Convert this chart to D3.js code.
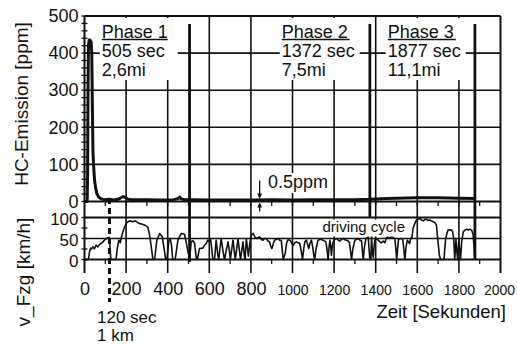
<!DOCTYPE html>
<html>
<head>
<meta charset="utf-8">
<script src="https://cdnjs.cloudflare.com/ajax/libs/d3/7.8.5/d3.min.js"></script>
<style>
  body { margin: 0; background: #fff; }
  svg { display: block; font-family: "Liberation Sans", Arial, Helvetica, sans-serif; }
  text { fill: #111; }
</style>
</head>
<body>
<div id="chart"></div>
<script>
// Data
var timeTicks = [0, 200, 400, 600, 800, 1000, 1200, 1400, 1600, 1800, 2000];
var hcTicks = [0, 100, 200, 300, 400, 500];
var speedTicks = [0, 50, 100];
var phaseNames = ['Phase 1', 'Phase 2', 'Phase 3'];
var phaseEnd = [505, 1372, 1877];
var phaseSec = ['505 sec', '1372 sec', '1877 sec'];
var phaseMiles = ['2,6mi', '7,5mi', '11,1mi'];

var hcTime = [0, 13, 15, 17, 19, 22, 27, 32, 35, 37, 39, 41, 44, 48, 53, 60, 68, 80, 95, 120,
  140, 160, 175, 185, 195, 210, 230, 260, 300, 350, 400, 430, 450, 458, 466, 480, 505, 600, 700, 800,
  900, 1000, 1100, 1200, 1300, 1372, 1400, 1450, 1500, 1600, 1700, 1800, 1877];
var hcPpm = [0, 0, 80, 300, 420, 435, 435, 430, 400, 300, 200, 130, 95, 60, 38, 20, 12, 7, 5, 6,
  4, 6, 10, 13, 11, 6, 5, 5, 5, 4, 4, 5, 8, 12, 7, 5, 5, 4, 4, 4,
  5, 4, 5, 5, 5, 6, 7, 8, 9, 10, 10, 9, 8];

var cycleTime = [0, 19, 24, 29, 34, 40, 48, 56, 64, 72, 80, 88, 96, 104, 112, 118, 122, 126, 128, 152,
  157, 165, 172, 181, 193, 204, 217, 233, 245, 262, 278, 294, 305, 313, 321, 329, 337, 348, 361, 374,
  385, 390, 396, 406, 412, 418, 424, 436, 449, 465, 481, 497, 505,
  513, 520, 529, 537, 542, 553, 569, 577, 585, 593, 601, 606, 612, 617, 625, 633, 640, 645, 657, 666,
  673, 690, 697, 701, 714, 720, 725, 738, 745, 750, 762, 768, 772, 778, 784, 788, 795, 802, 810, 818,
  826, 834, 842, 850, 858, 866, 874, 882, 890, 896, 901, 908, 914, 922, 930, 938, 946, 951, 955, 965,
  972, 978, 987, 995, 1003, 1011, 1019, 1027, 1035, 1042, 1048, 1054, 1059, 1067, 1073, 1078, 1085, 1091,
  1097, 1103, 1107, 1113, 1123, 1135, 1147, 1160, 1166, 1171, 1176, 1180, 1184, 1187, 1191, 1195, 1204,
  1212, 1220, 1228, 1236, 1244, 1252, 1260, 1268, 1274, 1279, 1284, 1290, 1300, 1308, 1316, 1324, 1332,
  1336, 1340, 1346, 1353, 1360, 1364, 1368, 1372,
  1377, 1380, 1384, 1388, 1392, 1396, 1404, 1412, 1420, 1428, 1436, 1444, 1452, 1460, 1468, 1476, 1484,
  1492, 1497, 1501, 1506, 1510, 1520, 1530, 1535, 1540, 1546, 1552, 1558, 1563, 1568, 1574, 1580, 1588,
  1596, 1604, 1612, 1620, 1628, 1636, 1644, 1652, 1660, 1668, 1676, 1684, 1692, 1697, 1702, 1706, 1712,
  1728, 1736, 1742, 1748, 1756, 1764, 1770, 1775, 1780, 1786, 1790, 1794, 1800, 1804, 1808, 1813, 1821,
  1829, 1837, 1845, 1853, 1861, 1868, 1873, 1877];
var cycleSpeed = [0, 0, 18, 27, 25, 30, 26, 34, 30, 36, 38, 42, 46, 49, 52, 53, 35, 5, 0, 0,
  25, 46, 40, 60, 78, 88, 92, 90, 92, 86, 84, 81, 76, 58, 30, 0, 0, 46, 62, 54,
  18, 0, 0, 45, 50, 35, 0, 0, 46, 62, 60, 20, 0,
  42, 45, 40, 5, 0, 26, 27, 34, 38, 46, 42, 50, 25, 0, 0, 46, 15, 0, 50, 20,
  0, 42, 20, 0, 46, 20, 0, 50, 20, 0, 42, 10, 0, 50, 25, 8, 40, 58, 62, 55,
  50, 52, 54, 48, 46, 50, 50, 44, 42, 30, 26, 38, 46, 48, 50, 46, 46, 20, 0, 15,
  40, 47, 46, 40, 34, 40, 42, 40, 38, 20, 0, 25, 42, 46, 35, 26, 40, 46,
  30, 8, 0, 25, 46, 48, 46, 42, 25, 0, 30, 46, 30, 10, 30, 42, 48,
  50, 46, 44, 48, 50, 47, 46, 44, 40, 20, 0, 25, 46, 48, 50, 46, 44,
  20, 0, 30, 50, 52, 54, 25, 0,
  0, 58, 20, 5, 30, 46, 50, 46, 42, 40, 44, 40, 52, 54, 50, 55, 52,
  50, 25, 0, 30, 48, 50, 48, 25, 0, 30, 46, 42, 38, 50, 52, 75, 86,
  94, 96, 98, 94, 92, 95, 96, 93, 94, 92, 90, 88, 82, 55, 30, 10, 0,
  0, 48, 62, 70, 71, 70, 66, 50, 0, 48, 20, 0, 48, 20, 0, 40, 66,
  70, 72, 70, 72, 70, 60, 30, 0];

// Chart Setup
var width = 517;
var height = 345;
var left = 84.5, right = 500.5;
var gridBottom = 273;
var ink = '#111';

var xScale = d3.scaleLinear().domain([0, 2000]).range([left, right]);
var hcScale = d3.scaleLinear().domain([0, 500]).range([201.5, 16]);
var speedScale = d3.scaleLinear().domain([0, 100]).range([259.5, 217.5]);

var svg = d3.select('#chart')
  .append('svg')
  .attr('width', width)
  .attr('height', height);
svg.append('rect').attr('width', width).attr('height', height).attr('fill', '#fff');

var grid = svg.append('g').attr('stroke', ink).attr('fill', 'none');

// Horizontal grid lines
grid.selectAll('.hc-line')
  .data(hcTicks)
  .enter()
  .append('line')
  .attr('x1', left).attr('x2', right)
  .attr('y1', function(d) { return hcScale(d) })
  .attr('y2', function(d) { return hcScale(d) })
  .attr('stroke-width', function(d) { return d == 0 || d == 500 ? 2 : 1.6 })
grid.selectAll('.v-line')
  .data(speedTicks)
  .enter()
  .append('line')
  .attr('x1', left).attr('x2', right)
  .attr('y1', function(d) { return speedScale(d) })
  .attr('y2', function(d) { return speedScale(d) })
  .attr('stroke-width', function(d) { return d == 50 ? 1.6 : 2 })

// Vertical grid lines
grid.selectAll('.t-line')
  .data(timeTicks)
  .enter()
  .append('line')
  .attr('x1', function(d) { return xScale(d) })
  .attr('x2', function(d) { return xScale(d) })
  .attr('y1', hcScale(500))
  .attr('y2', gridBottom)
  .attr('stroke-width', function(d) { return d == 0 || d == 2000 ? 2 : 1.6 })

// Minor ticks
grid.selectAll('.hc-tick')
  .data(d3.range(0, 501, 20))
  .enter()
  .append('line')
  .attr('x1', left - 3).attr('x2', left + 3)
  .attr('y1', function(d) { return hcScale(d) })
  .attr('y2', function(d) { return hcScale(d) })
  .attr('stroke-width', 1.3)
grid.selectAll('.v-tick')
  .data([0, 25, 50, 75, 100])
  .enter()
  .append('line')
  .attr('x1', left - 3).attr('x2', left + 3)
  .attr('y1', function(d) { return speedScale(d) })
  .attr('y2', function(d) { return speedScale(d) })
  .attr('stroke-width', 1.3)
grid.selectAll('.t-tick')
  .data(d3.range(100, 2000, 100))
  .enter()
  .append('line')
  .attr('x1', function(d) { return xScale(d) })
  .attr('x2', function(d) { return xScale(d) })
  .attr('y1', hcScale(0)).attr('y2', hcScale(0) + 4.5)
  .attr('stroke-width', 1.3)
grid.selectAll('.t-tick2')
  .data(d3.range(100, 2000, 200))
  .enter()
  .append('line')
  .attr('x1', function(d) { return xScale(d) })
  .attr('x2', function(d) { return xScale(d) })
  .attr('y1', speedScale(0)).attr('y2', speedScale(0) + 4.5)
  .attr('stroke-width', 1.3)

// Phase label boxes
var labelStart = [83, 948, 1458];
var boxes = svg.selectAll('.phase-box')
  .data(phaseNames)
  .enter()
  .append('g')
  .attr('transform', function(d, i) { return 'translate(' + xScale(labelStart[i]) + ',0)' })
boxes.append('rect')
  .attr('x', -2).attr('y', 18)
  .attr('width', function(d, i) { return i == 0 ? 78 : 80 })
  .attr('height', 62)
  .attr('fill', '#fff')

// Phase boundaries
var phaseBottom = [262, speedScale(100), speedScale(0)];
svg.selectAll('.phase-line')
  .data(phaseEnd)
  .enter()
  .append('line')
  .attr('x1', function(d) { return xScale(d) })
  .attr('x2', function(d) { return xScale(d) })
  .attr('y1', 24)
  .attr('y2', function(d, i) { return phaseBottom[i] })
  .attr('stroke', ink)
  .attr('stroke-width', 2.8)

// Curves
var hcLine = d3.line()
  .x(function(d) { return xScale(d[0]) })
  .y(function(d) { return hcScale(d[1]) })
svg.append('path')
  .datum(hcTime.map(function(t, i) { return [t, hcPpm[i]] }))
  .attr('d', hcLine)
  .attr('fill', 'none')
  .attr('stroke', ink)
  .attr('stroke-width', 3)
  .attr('stroke-linejoin', 'round')

var cycleLine = d3.line()
  .x(function(d) { return xScale(d[0]) })
  .y(function(d) { return speedScale(d[1]) })
svg.append('path')
  .datum(cycleTime.map(function(t, i) { return [t, cycleSpeed[i]] }))
  .attr('d', cycleLine)
  .attr('fill', 'none')
  .attr('stroke', ink)
  .attr('stroke-width', 1.6)
  .attr('stroke-linejoin', 'round')

// 120 sec marker
svg.append('line')
  .attr('x1', xScale(120)).attr('x2', xScale(120))
  .attr('y1', 198).attr('y2', 302)
  .attr('stroke', ink)
  .attr('stroke-width', 3)
  .attr('stroke-dasharray', '6,4')

// Phase labels
boxes.append('text')
  .attr('y', 37.5)
  .style('font-size', '18px')
  .text(function(d) { return d })
boxes.append('line')
  .attr('x1', 0).attr('y1', 39.5)
  .attr('x2', function(d, i) { return i == 0 ? 66 : 68 }).attr('y2', 39.5)
  .attr('stroke', ink).attr('stroke-width', 1.3)
boxes.append('text')
  .attr('y', 56.5)
  .style('font-size', '18px')
  .text(function(d, i) { return phaseSec[i] })
boxes.append('text')
  .attr('y', 75.5)
  .style('font-size', '18px')
  .text(function(d, i) { return phaseMiles[i] })

// Axes labels
var hcAxis = d3.axisLeft(hcScale).tickValues(hcTicks).tickSize(0).tickPadding(6)
var gHc = svg.append('g').attr('transform', 'translate(' + left + ',0)').call(hcAxis)
var speedAxis = d3.axisLeft(speedScale).tickValues(speedTicks).tickSize(0).tickPadding(6)
var gV = svg.append('g').attr('transform', 'translate(' + left + ',1.5)').call(speedAxis)
var timeAxis = d3.axisBottom(xScale).tickValues(timeTicks).tickFormat(d3.format('d'))
  .tickSize(0).tickPadding(6)
var gT = svg.append('g').attr('transform', 'translate(0,276)').call(timeAxis)
;[gHc, gV, gT].forEach(function(g) {
  g.select('.domain').remove()
  g.selectAll('text')
    .style('font-size', g === gV ? '17px' : '18px')
    .style('font-family', '"Liberation Sans", Arial, sans-serif')
    .attr('fill', ink)
})
gT.selectAll('text')
  .filter(function(d) { return d >= 1000 })
  .style('font-size', '14px')
  .attr('dy', '0.92em')
  .attr('x', function(d) { return d == 2000 ? -1.5 : 0 })

svg.append('text')
  .attr('transform', 'translate(28,104) rotate(-90)')
  .attr('text-anchor', 'middle')
  .style('font-size', '19px')
  .text('HC-Emission [ppm]')
svg.append('text')
  .attr('transform', 'translate(30,272) rotate(-90)')
  .attr('text-anchor', 'middle')
  .style('font-size', '19px')
  .text('v_Fzg [km/h]')
svg.append('text')
  .attr('x', 506).attr('y', 318)
  .attr('text-anchor', 'end')
  .style('font-size', '18.5px')
  .text('Zeit [Sekunden]')
svg.append('text')
  .attr('x', 97).attr('y', 323)
  .style('font-size', '17px')
  .text('120 sec')
svg.append('text')
  .attr('x', 97).attr('y', 340.5)
  .style('font-size', '17px')
  .text('1 km')

// driving cycle note
svg.append('rect')
  .attr('x', 320).attr('y', 219.5).attr('width', 88).attr('height', 17)
  .attr('fill', '#fff')
svg.append('text')
  .attr('x', 322.5).attr('y', 231.5)
  .style('font-size', '15px')
  .text('driving cycle')

// 0.5ppm note
var ax = xScale(842);
var ay = hcScale(0);
svg.append('rect')
  .attr('x', 266).attr('y', 173).attr('width', 64).attr('height', 20)
  .attr('fill', '#fff')
svg.append('text')
  .attr('x', 268).attr('y', 187.5)
  .style('font-size', '18px')
  .text('0.5ppm')
svg.append('path')
  .attr('d', 'M' + ax + ',' + (ay - 21) + 'V' + (ay - 6) +
             'M' + ax + ',' + (ay + 3) + 'V' + (ay + 10))
  .attr('stroke', ink).attr('stroke-width', 1.3)
svg.append('path')
  .attr('d', 'M' + (ax - 2.5) + ',' + (ay - 8) + 'L' + (ax + 2.5) + ',' + (ay - 8) + 'L' + ax + ',' + (ay - 2.5) + 'Z' +
             'M' + (ax - 2.5) + ',' + (ay + 6) + 'L' + (ax + 2.5) + ',' + (ay + 6) + 'L' + ax + ',' + (ay + 1) + 'Z')
  .attr('fill', ink)
</script>
</body>
</html>
